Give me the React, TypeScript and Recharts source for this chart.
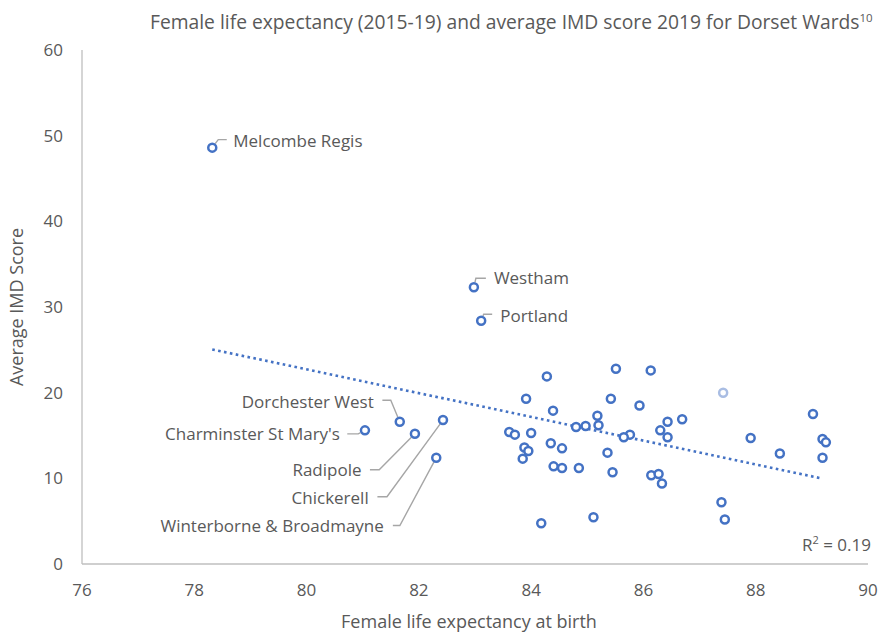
import React from 'react'
import { ScatterChart, Scatter, XAxis, YAxis } from 'recharts'

// Labelled wards (drawn with leader lines)
const LABELLED_WARDS = [
  'Melcombe Regis',
  'Westham',
  'Portland',
  "Charminster St Mary's",
  'Dorchester West',
  'Radipole',
  'Chickerell',
  'Winterborne & Broadmayne',
]
const LABELLED_LIFE_EXP = [78.32, 82.98, 83.11, 81.04, 81.66, 81.93, 82.43, 82.31]
const LABELLED_IMD = [48.6, 32.3, 28.4, 15.6, 16.6, 15.2, 16.8, 12.4]

// Remaining wards
const OTHER_LIFE_EXP = [
  84.28, 85.51, 86.13, 83.91, 85.42, 85.93, 84.39, 85.18, 85.2, 84.97, 84.8,
  86.43, 86.69, 86.3, 86.43, 85.76, 85.65, 83.61, 83.71, 84.0, 84.35, 84.55,
  83.88, 83.95, 83.85, 85.36, 84.4, 84.55, 84.85, 85.45, 86.14, 86.27, 86.33,
  84.18, 85.11, 89.02, 87.91, 89.19, 89.25, 88.43, 89.19, 87.39, 87.45,
]
const OTHER_IMD = [
  21.9, 22.8, 22.6, 19.3, 19.3, 18.5, 17.9, 17.3, 16.2, 16.1, 16.0,
  16.6, 16.9, 15.6, 14.8, 15.1, 14.8, 15.4, 15.1, 15.3, 14.1, 13.5,
  13.6, 13.2, 12.3, 13.0, 11.4, 11.2, 11.2, 10.7, 10.35, 10.5, 9.4,
  4.75, 5.45, 17.5, 14.7, 14.6, 14.2, 12.9, 12.4, 7.2, 5.2,
]

// Faded point
const FADED_LIFE_EXP = [87.42]
const FADED_IMD = [20.0]

// Linear trendline endpoints
const TREND_LIFE_EXP = [78.32, 89.17]
const TREND_IMD = [25.05, 10.0]

const X_TICKS = [76, 78, 80, 82, 84, 86, 88, 90]
const Y_TICKS = [0, 10, 20, 30, 40, 50, 60]

const FONT = '"Open Sans", sans-serif'
const GREY = '#595959'
const BLUE = '#4472c4'

// leader-line layout for each labelled ward, offsets in px from the marker
const LABEL_LAYOUT: Record<string, { elbow: number[]; end: number[]; text: number[]; anchor: string }> = {
  'Melcombe Regis': { elbow: [6, -8], end: [14.5, -8], text: [21, -7], anchor: 'start' },
  Westham: { elbow: [2, -9], end: [12, -9], text: [20, -9], anchor: 'start' },
  Portland: { elbow: [2.5, -6.5], end: [11, -6.5], text: [19, -5], anchor: 'start' },
  "Charminster St Mary's": { elbow: [-6.7, 3.5], end: [-17.7, 3.5], text: [-25, 4], anchor: 'end' },
  'Dorchester West': { elbow: [-9, -21.6], end: [-17.4, -21.6], text: [-26, -19.6], anchor: 'end' },
  Radipole: { elbow: [-35.7, 36], end: [-45, 36], text: [-53.4, 36.7], anchor: 'end' },
  Chickerell: { elbow: [-56, 76.6], end: [-65.6, 76.6], text: [-74.3, 77.6], anchor: 'end' },
  'Winterborne & Broadmayne': { elbow: [-36.4, 67.7], end: [-43.4, 67.7], text: [-52.4, 68.7], anchor: 'end' },
}

const labelledData = LABELLED_WARDS.map((name, i) => ({ name, x: LABELLED_LIFE_EXP[i], y: LABELLED_IMD[i] }))
const otherData = OTHER_LIFE_EXP.map((x, i) => ({ x, y: OTHER_IMD[i] }))
const fadedData = FADED_LIFE_EXP.map((x, i) => ({ x, y: FADED_IMD[i] }))
const trendData = TREND_LIFE_EXP.map((x, i) => ({ x, y: TREND_IMD[i] }))

const Dot = ({ cx, cy, color = BLUE }: any) => (
  <circle cx={cx} cy={cy} r={4} fill="#fff" stroke={color} strokeWidth={2.5} />
)

const LabelledDot = (props: any) => {
  const { cx, cy, payload } = props
  const layout = LABEL_LAYOUT[payload.name]
  if (!layout) return <Dot cx={cx} cy={cy} />
  const ex = cx + layout.elbow[0]
  const ey = cy + layout.elbow[1]
  const len = Math.hypot(layout.elbow[0], layout.elbow[1])
  const sx = cx + (layout.elbow[0] / len) * 5
  const sy = cy + (layout.elbow[1] / len) * 5
  return (
    <g>
      <polyline
        points={`${sx},${sy} ${ex},${ey} ${cx + layout.end[0]},${cy + layout.end[1]}`}
        fill="none"
        stroke="#a6a6a6"
        strokeWidth={1.4}
      />
      <Dot cx={cx} cy={cy} />
      <text
        x={cx + layout.text[0]}
        y={cy + layout.text[1]}
        dy="0.35em"
        textAnchor={layout.anchor as any}
        fill={GREY}
        fontSize={17}
        fontFamily={FONT}
      >
        {payload.name}
      </text>
    </g>
  )
}

const YTitle = (props: any) => {
  const vb = props.viewBox || { x: 0, y: 50, width: 82, height: 514 }
  const cx = vb.x + 17
  const cy = vb.y + vb.height / 2
  return (
    <text x={cx} y={cy} dy="0.35em" transform={`rotate(-90 ${cx} ${cy})`} textAnchor="middle" fill={GREY} fontSize={18} fontFamily={FONT}>
      Average IMD Score
    </text>
  )
}

const XTitle = (props: any) => {
  const vb = props.viewBox || { x: 82, y: 564, width: 786, height: 71 }
  return (
    <text x={469} y={vb.y + 58} dy="0.35em" textAnchor="middle" fill={GREY} fontSize={18} fontFamily={FONT}>
      Female life expectancy at birth
    </text>
  )
}

export default function App() {
  return (
    <div style={{ position: 'absolute', left: 0, top: 0, width: 880, height: 635, background: '#fff', fontFamily: FONT }}>
      <style>{`body{margin:0}`}</style>
      <div style={{ position: 'absolute', left: 150, top: 5, fontSize: 19.25, lineHeight: '26px', color: GREY, whiteSpace: 'nowrap' }}>
        Female life expectancy (2015-19) and average IMD score 2019 for Dorset Wards
        <sup style={{ fontSize: 11.5 }}>10</sup>
      </div>
      <ScatterChart width={880} height={635} margin={{ top: 50, right: 12, bottom: 0, left: 0 }}>
        <XAxis
          type="number"
          dataKey="x"
          domain={[76, 90]}
          ticks={X_TICKS}
          height={71}
          tickLine={false}
          tickSize={0}
          tickMargin={20}
          axisLine={{ stroke: '#bfbfbf', strokeWidth: 1.3 }}
          tick={{ fill: GREY, fontSize: 17, fontFamily: FONT }}
          label={{ content: XTitle }}
        />
        <YAxis
          type="number"
          dataKey="y"
          domain={[0, 60]}
          ticks={Y_TICKS}
          width={82}
          tickLine={false}
          tickSize={0}
          tickMargin={19}
          axisLine={{ stroke: '#bfbfbf', strokeWidth: 1.3 }}
          tick={{ fill: GREY, fontSize: 17, fontFamily: FONT }}
          label={{ content: YTitle }}
        />
        <Scatter
          data={trendData}
          line={{ stroke: BLUE, strokeWidth: 2.6, strokeDasharray: '2.6 3.4' }}
          shape={() => <g />}
          isAnimationActive={false}
        />
        <Scatter data={otherData} shape={<Dot />} isAnimationActive={false} />
        <Scatter data={fadedData} shape={<Dot color="#a9bde3" />} isAnimationActive={false} />
        <Scatter data={labelledData} shape={LabelledDot} isAnimationActive={false} />
      </ScatterChart>
      <div style={{ position: 'absolute', left: 802, top: 528, fontSize: 17, lineHeight: '24px', color: GREY, whiteSpace: 'nowrap' }}>
        R<sup style={{ fontSize: 11 }}>2</sup> = 0.19
      </div>
    </div>
  )
}
